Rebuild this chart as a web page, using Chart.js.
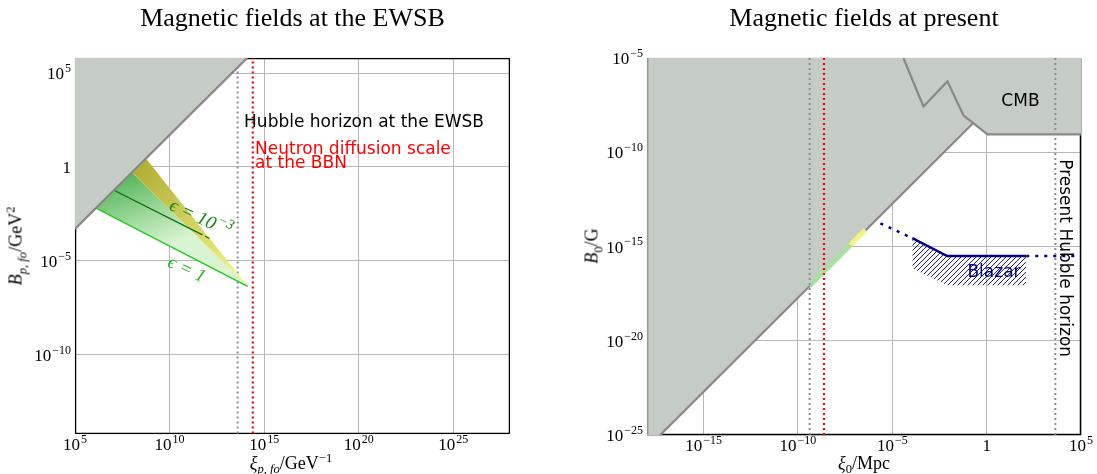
<!DOCTYPE html>
<html>
<head>
<meta charset="utf-8">
<title>Magnetic fields</title>
<script src="https://cdn.jsdelivr.net/npm/chart.js@4.4.1/dist/chart.umd.min.js"></script>
<style>
  html, body { margin: 0; padding: 0; background: #fff; }
  body { position: relative; width: 1097px; height: 474px; overflow: hidden; font-family: "Liberation Serif", "DejaVu Serif", serif; color: #000; }
  .panel { position: absolute; top: 0; height: 474px; }
  .title { position: absolute; top: 3px; font-size: 26px; line-height: 30px; text-align: center; white-space: nowrap; }
  .lab { position: absolute; font-size: 18px; white-space: nowrap; transform: translate(-50%, -50%); }
  .lab.rot { transform: translate(-50%, -50%) rotate(-90deg); }
  sub, sup { font-size: 70%; line-height: 0; }
</style>
</head>
<body>
<div class="panel" style="left:0;width:548px"><canvas id="ewsb"></canvas></div>
<div class="panel" style="left:548px;width:549px"><canvas id="present"></canvas></div>
<div class="title" style="left:75px;width:435px">Magnetic fields at the EWSB</div>
<div class="title" style="left:647px;width:434px">Magnetic fields at present</div>
<div class="lab" style="left:291px;top:463px"><i>ξ</i><sub><i>p, fo</i></sub>/GeV<sup>−1</sup></div>
<div class="lab rot" style="left:16px;top:246px"><i>B</i><sub><i>p, fo</i></sub>/GeV<sup>2</sup></div>
<div class="lab" style="left:864px;top:463px"><i>ξ</i><sub>0</sub>/Mpc</div>
<div class="lab rot" style="left:592px;top:246px"><i>B</i><sub>0</sub>/G</div>
<script>
// all values are log10 of the plotted quantity

// --- left panel: at the EWSB ---
const ewsbXTicks = [5, 10, 15, 20, 25];
const ewsbXLabels = [['10', '5'], ['10', '10'], ['10', '15'], ['10', '20'], ['10', '25']];
const ewsbYTicks = [-10, -5, 0, 5];
const ewsbYLabels = [['10', '−10'], ['10', '−5'], ['1', ''], ['10', '5']];
const ewsbXRange = [5, 28];
const ewsbYRange = [-14.2, 5.8];

const ewsbBoundX = [5, 14.1];
const ewsbBoundY = [-3.3, 5.8];
const yellowX = [8.01, 8.75, 14.13];
const yellowY = [-0.29, 0.45, -6.36];
const greenX = [6.11, 8.01, 14.13];
const greenY = [-2.19, -0.29, -6.36];
const eps1X = [6.11, 14.13];
const eps1Y = [-2.19, -6.36];
const eps3X = [7.06, 11.5, 12.23];
const eps3Y = [-1.24, -3.5, -3.87];
const ewsbHubbleX = 13.6;
const ewsbBbnX = 14.4;

// --- right panel: at present ---
const presXTicks = [-15, -10, -5, 0, 5];
const presXLabels = [['10', '−15'], ['10', '−10'], ['10', '−5'], ['1', ''], ['10', '5']];
const presYTicks = [-25, -20, -15, -10, -5];
const presYLabels = [['10', '−25'], ['10', '−20'], ['10', '−15'], ['10', '−10'], ['10', '−5']];
const presXRange = [-18, 5];
const presYRange = [-25, -5];

const diagX = [-17.3, -0.71];
const diagY = [-25, -8.45];
const cmbX = [-4.41, -3.35, -2.08, -1.23, 0.04, 5];
const cmbY = [-5, -7.57, -6.24, -8.04, -9.05, -9.05];
const openTopX = [-18, -17.3, -0.71, 0.04, 5];
const openTopY = [-25, -25, -8.45, -9.05, -9.05];
const greenNowX = [-9.38, -7.22];
const greenNowY = [-17.08, -14.92];
const yellowNowX = [-7.22, -6.43];
const yellowNowY = [-14.92, -14.13];
const blazarDotX = [-5.63, -3.94];
const blazarDotY = [-13.77, -14.56];
const blazarX = [-3.94, -2.09, 2.1];
const blazarY = [-14.56, -15.51, -15.51];
const blazarLowY = [-16.15, -17.05, -17.05];
const blazarExtX = [2.1, 5];
const blazarExtY = [-15.51, -15.51];
const presHubbleEwsbX = -9.38;
const presBbnX = -8.62;
const presHubbleNowX = 3.64;

const GRAY = '#c4ccc5';
const EDGE = '#888888';
const NAVY = '#000080';
const SERIF = '"Liberation Serif", "DejaVu Serif", serif';
const SANS = '17px "DejaVu Sans", sans-serif';

function pts(xs, ys) {
  return xs.map((x, i) => ({ x: Math.pow(10, x), y: Math.pow(10, ys[i]) }));
}

function line(xs, ys, o) {
  return Object.assign({
    data: pts(xs, ys), showLine: true, pointRadius: 0, pointHoverRadius: 0,
    borderWidth: 0, borderColor: 'rgba(0,0,0,0)', fill: false, tension: 0
  }, o);
}

function vline(x, yr, o) {
  return line([x, x], yr, Object.assign({ borderWidth: 2, borderDash: [2, 3] }, o));
}

function axis(range, ticks, fit) {
  return {
    type: 'logarithmic',
    min: Math.pow(10, range[0]),
    max: Math.pow(10, range[1]),
    afterBuildTicks: s => { s.ticks = ticks.map(e => ({ value: Math.pow(10, e) })); },
    afterFit: fit,
    border: { display: false },
    grid: { color: '#b8b8b8', lineWidth: 1, drawTicks: false },
    ticks: { display: false }
  };
}

// "10" with a raised exponent
function drawPow(ctx, lab, x, y, align, size) {
  const big = size + 'px ' + SERIF, small = Math.round(size * 0.72) + 'px ' + SERIF;
  const style = lab[2] || '';
  ctx.font = style + big;
  const w0 = ctx.measureText(lab[0]).width;
  ctx.font = style + small;
  const w1 = lab[1] ? ctx.measureText(lab[1]).width + 1 : 0;
  const w = w0 + w1;
  const left = align === 'center' ? x - w / 2 : align === 'right' ? x - w : x;
  ctx.textAlign = 'left';
  ctx.textBaseline = 'alphabetic';
  ctx.font = style + big;
  ctx.fillText(lab[0], left, y);
  if (lab[1]) {
    ctx.font = style + small;
    ctx.fillText(lab[1], left + w0 + 1, y - size * 0.42);
  }
}

function powerTicks(xLabels, yLabels) {
  return {
    id: 'powerTicks',
    afterDraw(chart) {
      const ctx = chart.ctx, a = chart.chartArea;
      const sx = chart.scales.x, sy = chart.scales.y;
      ctx.save();
      ctx.fillStyle = '#000';
      sx.ticks.forEach((t, i) => drawPow(ctx, xLabels[i], sx.getPixelForValue(t.value), a.bottom + 16, 'center', 17));
      sy.ticks.forEach((t, i) => drawPow(ctx, yLabels[i], a.left - 4, sy.getPixelForValue(t.value) + 6, 'right', 17));
      ctx.restore();
    }
  };
}

// linear gradient between two data points of the chart
function grad(chart, a, b, c0, c1) {
  if (!chart.chartArea) return c0;
  const sx = chart.scales.x, sy = chart.scales.y;
  const g = chart.ctx.createLinearGradient(
    sx.getPixelForValue(Math.pow(10, a[0])), sy.getPixelForValue(Math.pow(10, a[1])),
    sx.getPixelForValue(Math.pow(10, b[0])), sy.getPixelForValue(Math.pow(10, b[1])));
  g.addColorStop(0, c0);
  g.addColorStop(1, c1);
  return g;
}

function hatch(color) {
  const c = document.createElement('canvas');
  c.width = 5; c.height = 5;
  const g = c.getContext('2d');
  g.strokeStyle = color;
  g.lineWidth = 0.9;
  g.beginPath();
  g.moveTo(0, 5); g.lineTo(5, 0);
  g.moveTo(-1, 1); g.lineTo(1, -1);
  g.moveTo(4, 6); g.lineTo(6, 4);
  g.stroke();
  return g.createPattern(c, 'repeat');
}

const frame = {
  id: 'frame',
  beforeDatasetsDraw(chart) {
    const { ctx, chartArea: a } = chart;
    ctx.save();
    ctx.strokeStyle = '#000';
    ctx.lineWidth = 1.3;
    ctx.strokeRect(a.left + 0.6, a.top + 0.6, a.right - a.left - 1.2, a.bottom - a.top - 1.2);
    ctx.restore();
  }
};

function notes(items) {
  return {
    id: 'notes',
    afterDatasetsDraw(chart) {
      const ctx = chart.ctx, sx = chart.scales.x, sy = chart.scales.y;
      items.forEach(n => {
        ctx.save();
        ctx.translate(sx.getPixelForValue(Math.pow(10, n.x)), sy.getPixelForValue(Math.pow(10, n.y)));
        ctx.rotate((n.angle || 0) * Math.PI / 180);
        ctx.fillStyle = n.color;
        if (n.pow) {
          drawPow(ctx, n.pow, 0, 6, 'center', 19);
        } else {
          ctx.font = n.font;
          ctx.textAlign = n.align || 'left';
          ctx.textBaseline = n.baseline || 'alphabetic';
          ctx.fillText(n.text, 0, 0);
        }
        ctx.restore();
      });
    }
  };
}

function options(xa, ya, pad) {
  return {
    responsive: true, maintainAspectRatio: false, animation: false, events: [],
    layout: { padding: pad },
    plugins: { legend: { display: false }, tooltip: { enabled: false } },
    scales: { x: xa, y: ya }
  };
}

new Chart(document.getElementById('ewsb'), {
  type: 'scatter',
  data: {
    datasets: [
      line(ewsbBoundX, ewsbBoundY, { order: 0, borderColor: EDGE, borderWidth: 2.2, fill: 'end', backgroundColor: GRAY }),
      line(yellowX, yellowY, { order: 3, fill: 2,
        backgroundColor: c => grad(c.chart, [8.6, 0.3], [14.13, -6.36], '#b0ae34', '#f8f890') }),
      line(greenX, greenY, { order: 4, fill: 3,
        backgroundColor: c => grad(c.chart, [8.0, -0.3], [9.6, -4.3], '#58b65c', '#d8f4d0') }),
      line(eps1X, eps1Y, { order: 2, borderColor: '#22cc22', borderWidth: 1.5 }),
      line(eps3X, eps3Y, { order: 1, borderColor: '#0b700b', borderWidth: 1.3,
        segment: { borderDash: c => c.p0DataIndex === 1 ? [5, 3] : undefined } }),
      vline(ewsbHubbleX, ewsbYRange, { order: 6, borderColor: '#8c8c8c' }),
      vline(ewsbBbnX, ewsbYRange, { order: 5, borderColor: '#ff0000', borderWidth: 2.2 })
    ]
  },
  options: options(
    axis(ewsbXRange, ewsbXTicks, s => { s.height = 40; }),
    axis(ewsbYRange, ewsbYTicks, s => { s.width = 75; }),
    { left: 0, top: 58, right: 38, bottom: 0 }),
  plugins: [frame, powerTicks(ewsbXLabels, ewsbYLabels), notes([
    { text: 'Hubble horizon at the EWSB', x: 13.94, y: 2.13, font: SANS, color: '#000' },
    { text: 'Neutron diffusion scale', x: 14.52, y: 0.69, font: SANS, color: '#ff0000' },
    { text: 'at the BBN', x: 14.52, y: -0.05, font: SANS, color: '#ff0000' },
    { pow: ['ϵ = 10', '−3', 'italic '], x: 11.66, y: -2.71, angle: 25, color: '#128a12' },
    { pow: ['ϵ = 1', '', 'italic '], x: 10.92, y: -5.43, angle: 25, color: '#22bb22' }
  ])]
});

new Chart(document.getElementById('present'), {
  type: 'scatter',
  data: {
    datasets: [
      line(openTopX, openTopY, { order: 9, fill: 'end', backgroundColor: GRAY }),
      line(diagX, diagY, { order: 8, borderColor: EDGE, borderWidth: 2.2 }),
      line(cmbX, cmbY, { order: 7, borderColor: EDGE, borderWidth: 2.2 }),
      line([presXRange[0], presXRange[0]], presYRange, { order: 8, borderColor: '#999999', borderWidth: 3 }),
      line(greenNowX, greenNowY, { order: 6, borderColor: '#a8e2a0', borderWidth: 5 }),
      line(yellowNowX, yellowNowY, { order: 5, borderColor: '#f4f480', borderWidth: 5 }),
      line(blazarX, blazarY, { order: 4, borderColor: NAVY, borderWidth: 2.5, fill: 7, backgroundColor: hatch(NAVY) }),
      line(blazarX, blazarLowY, { order: 10 }),
      line(blazarDotX, blazarDotY, { order: 3, borderColor: NAVY, borderWidth: 2.5, borderDash: [3, 6] }),
      line(blazarExtX, blazarExtY, { order: 3, borderColor: NAVY, borderWidth: 2.5, borderDash: [3, 6] }),
      vline(presHubbleEwsbX, presYRange, { order: 2, borderColor: '#8c8c8c' }),
      vline(presBbnX, presYRange, { order: 1, borderColor: '#ff0000', borderWidth: 2.2 }),
      vline(presHubbleNowX, presYRange, { order: 2, borderColor: '#8c8c8c' })
    ]
  },
  options: options(
    axis(presXRange, presXTicks, s => { s.height = 39; }),
    axis(presYRange, presYTicks, s => { s.width = 99; }),
    { left: 0, top: 58, right: 16, bottom: 0 }),
  plugins: [frame, powerTicks(presXLabels, presYLabels), notes([
    { text: 'CMB', x: 0.78, y: -7.57, font: SANS, color: '#000' },
    { text: 'Blazar', x: -1.02, y: -16.63, font: SANS, color: NAVY },
    { text: 'Present Hubble horizon', x: 4.12, y: -15.62, angle: 90, align: 'center', baseline: 'middle', font: SANS, color: '#000' }
  ])]
});
</script>
</body>
</html>
